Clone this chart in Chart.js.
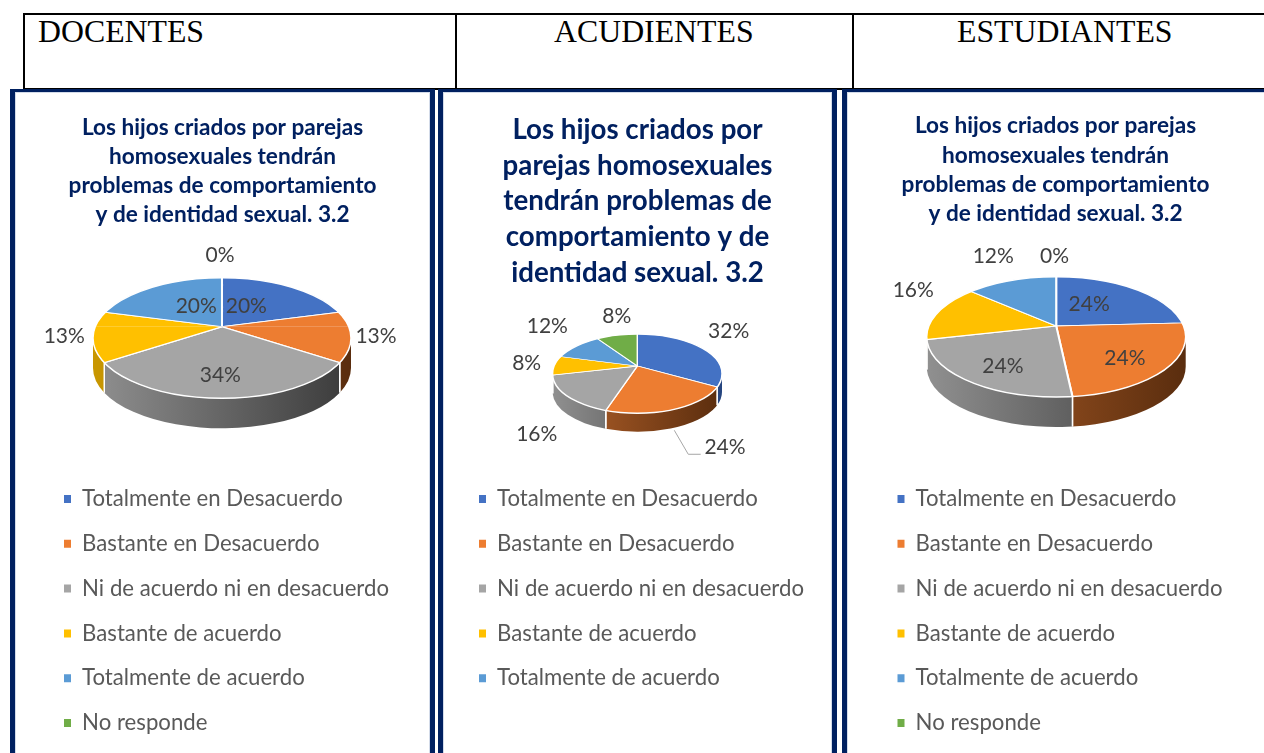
<!DOCTYPE html>
<html lang="es">
<head>
<meta charset="utf-8">
<title>Los hijos criados por parejas homosexuales</title>
<script src="https://cdn.jsdelivr.net/npm/chart.js@4/dist/chart.umd.min.js"></script>
<style>
html,body{margin:0;padding:0;background:#fff;width:1264px;height:753px;overflow:hidden;position:relative}
.line{position:absolute;background:#000}
.head{position:absolute;top:14px;font:31.8px/36px "Liberation Serif",serif;color:#000;white-space:nowrap}
.panel{position:absolute;top:89px;height:700px;box-sizing:border-box;border:solid #002060;border-width:3px 5px 0 5px;background:#fff;box-shadow:inset 1px 1px 0 #d3dbe9,inset -1px 0 0 #d3dbe9}
canvas{position:absolute;display:block}
</style>
</head>
<body>
<div class="line" style="left:23px;top:13px;width:1241px;height:2px"></div>
<div class="line" style="left:23px;top:13px;width:2px;height:76px"></div>
<div class="line" style="left:455px;top:13px;width:2px;height:76px"></div>
<div class="line" style="left:852px;top:13px;width:2px;height:76px"></div>
<div class="line" style="left:23px;top:88px;width:1241px;height:2px"></div>
<div class="head" style="left:38px">DOCENTES</div>
<div class="head" style="left:554px">ACUDIENTES</div>
<div class="head" style="left:957px">ESTUDIANTES</div>
<div class="panel" style="left:10px;width:425px"></div>
<div class="panel" style="left:438px;width:399px"></div>
<div class="panel" style="left:842px;width:430px"></div>
<canvas id="c1" width="415" height="661" style="left:15px;top:92px"></canvas>
<canvas id="c2" width="389" height="661" style="left:443px;top:92px"></canvas>
<canvas id="c3" width="417" height="661" style="left:847px;top:92px"></canvas>
<script>
const categories = ['Totalmente en Desacuerdo','Bastante en Desacuerdo','Ni de acuerdo ni en desacuerdo','Bastante de acuerdo','Totalmente de acuerdo','No responde'];
const docentes = [20,13,34,13,20,0];
const acudientes = [32,24,16,8,12,8];
const estudiantes = [24,24,24,16,12,0];
const titleDocentes = ['Los hijos criados por parejas','homosexuales tendrán','problemas de comportamiento','y de identidad sexual. 3.2'];
const titleAcudientes = ['Los hijos criados por','parejas homosexuales','tendrán problemas de','comportamiento y de','identidad sexual. 3.2'];
const titleEstudiantes = titleDocentes;

const topColors = ['#4472C4','#ED7D31','#A5A5A5','#FFC000','#5B9BD5','#70AD47'];
const wallLeft  = ['#3A65AE','#B5622A','#909090','#C99700','#4A86BE','#5E9339'];
const wallRight = ['#26457F','#5A2D0E','#3A3A3A','#7A5C00','#2F5F8C','#3F6426'];

const pie3d = {
  id:'pie3d',
  beforeDatasetsDraw(chart,args,o){
    const ctx=chart.ctx, els=chart.getDatasetMeta(0).data;
    const dy0=o.apex-o.ey;
    const ryT=o.apex-(o.ey-o.ry), ryB=(o.ey+o.ry)-o.apex;
    const phi=(ang)=>{
      const th=ang+Math.PI/2, s=Math.sin(th), c=Math.cos(th);
      const dx=o.rx*s, dy=-c*(c>0?ryT:ryB);
      const A=(dx/o.rx)**2+(dy/o.ry)**2, B=2*dy0*dy/(o.ry*o.ry), C=(dy0/o.ry)**2-1;
      const t=(-B+Math.sqrt(B*B-4*A*C))/(2*A);
      let p=Math.atan2((dy0+t*dy)/o.ry,t*dx/o.rx);
      return p<0?p+2*Math.PI:p;
    };
    els.forEach((el,i)=>{
      if(el.endAngle-el.startAngle<=0) return;
      const s=phi(el.startAngle); let e=phi(el.endAngle);
      if(e<=s) e+=2*Math.PI;
      [0,2*Math.PI].forEach(off=>{
        const l=Math.max(s,off), h=Math.min(e,off+Math.PI);
        if(h<=l) return;
        const g=ctx.createLinearGradient(o.cx-o.rx,0,o.cx+o.rx,0);
        g.addColorStop(0,wallLeft[i]); g.addColorStop(1,wallRight[i]);
        ctx.beginPath();
        ctx.ellipse(o.cx,o.ey,o.rx,o.ry,0,l,h);
        ctx.ellipse(o.cx,o.ey+o.depth,o.rx,o.ry,0,h,l,true);
        ctx.closePath();
        ctx.fillStyle=g; ctx.fill();
        ctx.strokeStyle='#fff'; ctx.lineWidth=1.5;
        [l,h].forEach(a=>{
          if(a<=off+1e-6||a>=off+Math.PI-1e-6) return;
          const x=o.cx+o.rx*Math.cos(a), y=o.ey+o.ry*Math.sin(a);
          ctx.beginPath(); ctx.moveTo(x,y); ctx.lineTo(x,y+o.depth); ctx.stroke();
        });
      });
    });
    ctx.save();
    ctx.beginPath(); ctx.ellipse(o.cx,o.ey,o.rx,o.ry,0,0,2*Math.PI); ctx.clip();
    ctx.beginPath(); ctx.rect(0,0,chart.width,o.apex); ctx.clip();
    const el=els[0], R=el.outerRadius, k=1.3;
    ctx.translate(o.cx,o.apex); ctx.scale(k*o.rx/R,k*ryT/R); ctx.translate(-el.x,-el.y);
  },
  afterDatasetsDraw(chart,args,o){
    const ctx=chart.ctx, els=chart.getDatasetMeta(0).data, values=chart.data.datasets[0].data;
    ctx.restore();
    const ryT=o.apex-(o.ey-o.ry), ryB=(o.ey+o.ry)-o.apex;
    const el0=els[0], R=el0.outerRadius, k=1.3;
    ctx.save();
    ctx.beginPath(); ctx.ellipse(o.cx,o.ey,o.rx,o.ry,0,0,2*Math.PI); ctx.clip();
    ctx.beginPath(); ctx.rect(0,o.apex,chart.width,chart.height); ctx.clip();
    ctx.translate(o.cx,o.apex); ctx.scale(k*o.rx/R,k*ryB/R); ctx.translate(-el0.x,-el0.y);
    els.forEach(e=>e.draw(ctx));
    ctx.restore();
    ctx.beginPath(); ctx.ellipse(o.cx,o.ey,o.rx,o.ry,0,0,2*Math.PI);
    ctx.strokeStyle='#fff'; ctx.lineWidth=1.5; ctx.stroke();
    ctx.font='21px Lato'; ctx.textAlign='center'; ctx.textBaseline='middle';
    els.forEach((el,i)=>{
      const th=(el.startAngle+el.endAngle)/2+Math.PI/2, s=Math.sin(th), c=Math.cos(th);
      const x=o.cx+o.rx*s+o.nudge[i][0];
      const y=o.apex-c*(c>0?ryT:ryB)+o.nudge[i][1];
      ctx.fillStyle='#404040';
      ctx.fillText(Math.round(values[i])+'%',x,y);
      if(o.leader===i){
        ctx.beginPath(); ctx.moveTo(x-50.7,y-16.7); ctx.lineTo(x-36.7,y+7.3); ctx.lineTo(x-24.3,y+7.3);
        ctx.strokeStyle='#A6A6A6'; ctx.lineWidth=1; ctx.stroke();
      }
    });
  },
  afterLayout(chart,args,o){
    const lg=chart.legend;
    lg.left=o.legendLeft; lg.right=o.legendLeft+365; lg.top=o.legendTop; lg.bottom=o.legendTop+lg.height;
  }
};

function panel(id,values,title,titleSize,titleLine,titleTop,geom,hideLast){
  return new Chart(document.getElementById(id),{
    type:'pie',
    data:{labels:categories,datasets:[{data:values,backgroundColor:topColors,borderColor:'#fff',borderWidth:1.5,clip:false}]},
    options:{
      responsive:false,animation:false,
      layout:{padding:0},
      plugins:{
        title:{display:true,text:title,color:'#002060',align:'center',
          font:{family:'Lato',size:titleSize,weight:'bold',lineHeight:titleLine},padding:{top:titleTop,bottom:0}},
        legend:{display:true,position:'bottom',align:'start',
          labels:{boxWidth:7,boxHeight:8,padding:22.6,color:'#595959',font:{family:'Lato',size:22.2},
            generateLabels(chart){
              return Chart.overrides.pie.plugins.legend.labels.generateLabels(chart).map(l=>Object.assign(l,{lineWidth:0,strokeStyle:'rgba(0,0,0,0)'}));
            },
            filter:(item)=>!(hideLast&&item.index===categories.length-1)}},
        tooltip:{enabled:false},
        pie3d:geom
      }
    },
    plugins:[pie3d]
  });
}

panel('c1',docentes,titleDocentes,22.6,1.285,21,{cx:207,ey:246,apex:234.7,rx:129,ry:60.3,depth:30,legendLeft:26.4,legendTop:373.3,
  nudge:[[-51.5,18.7],[25.6,2.3],[-1.7,-22.6],[-29.3,2.3],[50.1,18.7],[-2,-22]]},false);
panel('c2',acudientes,titleAcudientes,27.7,1.29,20,{cx:194.3,ey:281.65,apex:274,rx:84.7,ry:39.65,depth:18.4,legendLeft:13.4,legendTop:373.3,leader:1,
  nudge:[[19.9,-18.1],[56.5,37],[-35.3,38.4],[-26.1,-.7],[-24.7,-18.9],[.5,-18.3]]},true);
panel('c3',estudiantes,titleEstudiantes,22.6,1.29,19.5,{cx:209.2,ey:244.85,apex:234,rx:129.5,ry:60.15,depth:30,legendLeft:27.9,legendTop:373.3,
  nudge:[[-55.7,14.2],[-31.1,-12.9],[22.8,-17.4],[-19.8,-20.5],[-15.3,-23.9],[-1.7,-20.4]]},false);
</script>
</body>
</html>
